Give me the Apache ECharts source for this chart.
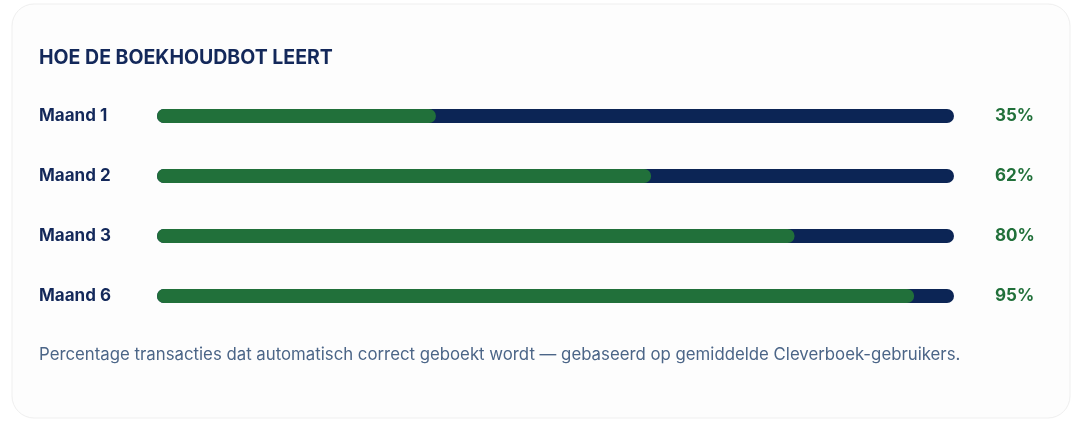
<!DOCTYPE html>
<html>
  <head>
    <meta charset="utf-8" />
    <title>Hoe de boekhoudbot leert</title>
    <style type="text/css">
      html, body { margin: 0; padding: 0; background: #ffffff; }
      #main { width: 1083px; height: 423px; }
    </style>
    <script type="text/javascript" src="https://cdn.jsdelivr.net/npm/echarts@6.0.0/dist/echarts.min.js"></script>
  </head>
  <body>
    <div id="main"></div>
    <script type="text/javascript">
    // data
    var months = ['Maand 1', 'Maand 2', 'Maand 3', 'Maand 6'];
    var percentages = [35, 62, 80, 95];
    var trackValues = [100, 100, 100, 100];

    var navy = '#0c2555';
    var green = '#21703a';
    var font = 'Inter, "Noto Sans", sans-serif';

    var dom = document.getElementById('main');
    var myChart = echarts.init(dom, null, { renderer: 'canvas' });

    var option = {
      animation: false,
      backgroundColor: '#ffffff',
      graphic: [
        {
          type: 'rect',
          z: -10,
          shape: { x: 12, y: 4, width: 1058, height: 414, r: 22 },
          style: { fill: '#fdfdfd', stroke: '#efefef', lineWidth: 1 }
        },
        {
          type: 'text',
          left: 39,
          top: 48,
          style: {
            text: 'HOE DE BOEKHOUDBOT LEERT',
            fill: '#13285a',
            font: 'bold 19.5px ' + font
          }
        },
        {
          type: 'text',
          left: 39,
          top: 346,
          style: {
            text: 'Percentage transacties dat automatisch correct geboekt wordt \u2014 gebaseerd op gemiddelde Cleverboek-gebruikers.',
            fill: '#4b6587',
            font: '16.8px ' + font
          }
        }
      ],
      grid: { left: 157, right: 129, top: 86, bottom: 97 },
      xAxis: {
        type: 'value',
        min: 0,
        max: 100,
        show: false
      },
      yAxis: {
        type: 'category',
        inverse: true,
        data: months,
        axisLine: { show: false },
        axisTick: { show: false },
        axisLabel: {
          align: 'left',
          margin: 118,
          color: '#13285a',
          fontFamily: font,
          fontWeight: 'bold',
          fontSize: 17
        }
      },
      series: [
        {
          name: 'track',
          type: 'bar',
          data: trackValues,
          barWidth: 14,
          barGap: '-100%',
          silent: true,
          itemStyle: { color: navy, borderRadius: 7 },
          label: {
            show: true,
            position: 'right',
            distance: 41,
            formatter: function (p) { return percentages[p.dataIndex] + '%'; },
            color: green,
            fontFamily: font,
            fontWeight: 'bold',
            fontSize: 17
          }
        },
        {
          name: 'geboekt',
          type: 'bar',
          data: percentages,
          barWidth: 14,
          itemStyle: { color: green, borderRadius: 7 }
        }
      ]
    };

    if (option && typeof option === 'object') {
      myChart.setOption(option);
    }
    </script>
  </body>
</html>
